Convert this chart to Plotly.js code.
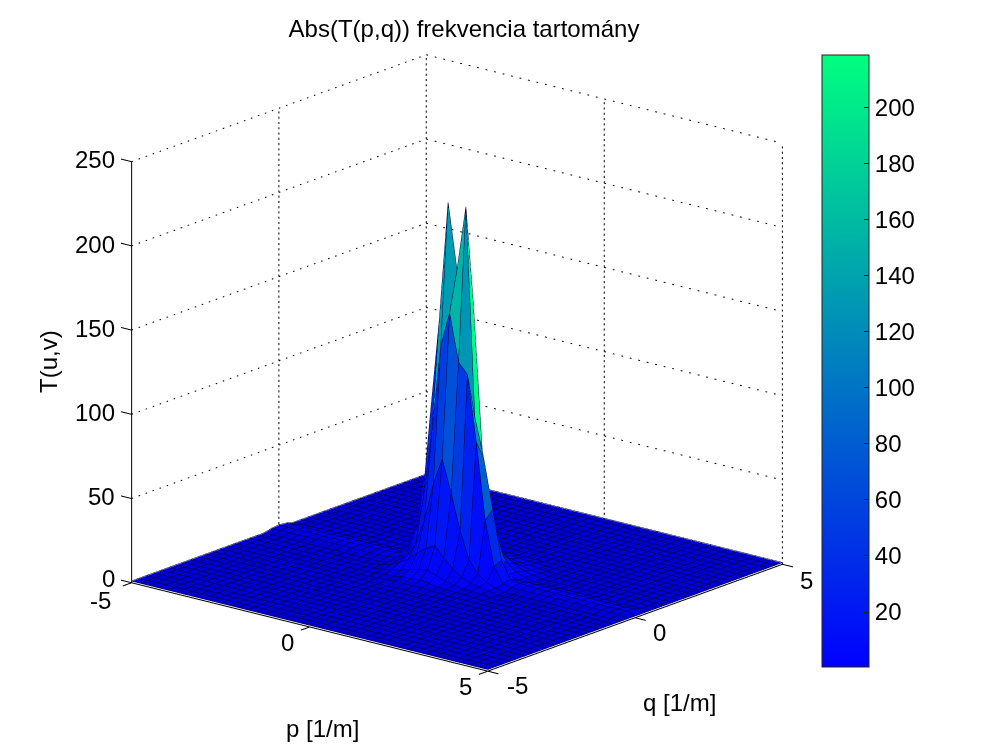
<!DOCTYPE html>
<html><head><meta charset="utf-8">
<script src="https://cdn.plot.ly/plotly-3.0.1.min.js"></script>
<style>html,body{margin:0;padding:0;background:#fff}</style></head>
<body><div id="g" style="width:1003px;height:752px"></div>
<script>
// Grid and read-off values
const gridP=[-5,-4.75,-4.5,-4.25,-4,-3.75,-3.5,-3.25,-3,-2.75,-2.5,-2.25,-2,-1.75,-1.5,-1.25,-1,-0.75,-0.5,-0.25,0,0.25,0.5,0.75,1,1.25,1.5,1.75,2,2.25,2.5,2.75,3,3.25,3.5,3.75,4,4.25,4.5,4.75,5];
const gridQ=gridP.slice();
const floorLevel=0.8;
// ridge along q=0, for p=-5..-1.75 (mirrored for p>0)
const ridgeCentre=[2.4,2.2,2.2,2.2,2.2,2.2,2.3,2.3,2.3,2.3,2.5,2.5,2.8,3.2];
const ridgeSide=[1.9,1.9,1.9,1.9,1.9,1.9,1.9,2,2,2,2,2,2.1,2.2];
// central block: columns p=-1.5..1.5
const peakRowQm150=[1,1,1.5,1.5,2,2,2,2,1.5,1.5,1,1,1];
const peakRowQm125=[1,1.5,2,2,3,3,4,3,2,2,1.5,1.5,1];
const peakRowQm100=[1.5,2,3,4,6,7,8,6,4,3,2,2,1.5];
const peakRowQm075=[2,3,6,9,14,18,21,15,10,6,4,3,2];
const peakRowQm050=[2,4,8,16,32,55,71,52,31,15,8,4,2];
const peakRowQm025=[3,6,15,40,82,135,156,128,122,83,38,12,3];
const peakRowQ000=[4,14,30,90,147,218.8,180,218.8,95,72,43,14,4];
const peakRowQp025=[3,12,38,83,122,128,156,160,74,45,12,4,2];
const peakRows=[peakRowQm150,peakRowQm125,peakRowQm100,peakRowQm075,peakRowQm050,peakRowQm025,peakRowQ000,peakRowQp025];
// facet colours read separately where they differ from the lowest corner
const colourFixP=[-0.5,-0.5,0.5,0];
const colourFixQ=[-0.25,0,0,0];
const colourFixV=[135,135,190,205];
const zTicks=[0,50,100,150,200,250];
const pqTicks=[-5,0,5];
const cbTicks=[20,40,60,80,100,120,140,160,180,200];
const cMin=0.36,cMax=218.9;
const winter=[[0,'rgb(0,0,255)'],[1,'rgb(0,255,128)']];
// surface colours: same map, with the mesh-darkened floor tone at the very bottom
const surfaceMap=[[0,'rgb(0,0,212)'],[0.003,'rgb(0,0,212)'],[0.007,'rgb(0,0,255)'],[1,'rgb(0,255,128)']];
const eye={x:0.608,y:-0.735,z:0.30};
const boxScale=1.317;
const tickLen=0.3;
const range=5+tickLen;

const N=gridP.length, mid=20;
const Z=[];
for(let j=0;j<N;j++){const row=[];for(let i=0;i<N;i++){
  let v=floorLevel;
  const ri=i<=20?i:40-i;
  if(i<40){
    if(j===mid&&ri<14)v=ridgeCentre[ri];
    if((j===mid-1||j===mid+1)&&ri<14)v=ridgeSide[ri];
  }
  const a=i-mid+6,b=j-mid+6;
  if(a>=0&&a<13&&b>=0&&b<13){
    v=b<peakRows.length?peakRows[b][a]:peakRows[12-b][12-a];
  }
  row.push(v);}Z.push(row);}
const Cf=Z.map(r=>r.slice());
colourFixP.forEach((p,k)=>{Cf[gridQ.indexOf(colourFixQ[k])][gridP.indexOf(p)]=colourFixV[k];});
// flat facets: duplicate inner vertices, one colour per facet (corner with lowest indices)
const D=2*(N-1);
const dupV=a=>Math.ceil(a/2), dupF=a=>Math.floor(a/2);
const X=[],Y=[];for(let a=0;a<D;a++){X.push(gridP[dupV(a)]);Y.push(gridQ[dupV(a)]);}
const ZZ=[],CC=[];
for(let b=0;b<D;b++){const rz=[],rc=[];for(let a=0;a<D;a++){rz.push(Z[dupV(b)][dupV(a)]);rc.push(Cf[dupF(b)][dupF(a)]);}ZZ.push(rz);CC.push(rc);}

const f={family:'Liberation Sans',size:24,color:'#000'};
const surf={type:'surface',x:X,y:Y,z:ZZ,surfacecolor:CC,cmin:cMin,cmax:cMax,colorscale:surfaceMap,showscale:false,
 lighting:{ambient:1,diffuse:0,specular:0,roughness:1,fresnel:0},hoverinfo:'skip'};
// colour bar carrier (hidden under the surface)
const cbar={type:'scatter3d',mode:'markers',x:[0,0],y:[0,0],z:[0,0],hoverinfo:'skip',showlegend:false,
 marker:{size:1,opacity:0,color:[cMin,cMax],cmin:cMin,cmax:cMax,colorscale:winter,showscale:true,
 colorbar:{x:822/1003,xanchor:'left',xpad:0,ypad:0,y:(752-361)/752,yanchor:'middle',lenmode:'pixels',len:612,thicknessmode:'pixels',thickness:47,
   tickvals:cbTicks,ticktext:cbTicks.map(String),ticks:'inside',ticklen:5,tickcolor:'#222',outlinecolor:'#222',outlinewidth:1,
   tickfont:f}}};

// mesh lines, nudged toward the viewer
const off=0.02;
const mx=[],my=[],mz=[];
for(let j=0;j<N;j++){for(let i=0;i<N;i++){mx.push(gridP[i]+off*eye.x);my.push(gridQ[j]+off*eye.y);mz.push(Z[j][i]+0.5);}mx.push(null);my.push(null);mz.push(null);}
for(let i=0;i<N;i++){for(let j=0;j<N;j++){mx.push(gridP[i]+off*eye.x);my.push(gridQ[j]+off*eye.y);mz.push(Z[j][i]+0.5);}mx.push(null);my.push(null);mz.push(null);}
const mesh={type:'scatter3d',mode:'lines',x:mx,y:my,z:mz,line:{color:'rgb(0,0,60)',width:1},hoverinfo:'skip',showlegend:false};

// dotted wall grid built from short dashes
const gx=[],gy=[],gz=[];
const dot=(a,b,step,len)=>{
  const L=Math.hypot((b[0]-a[0])/10,(b[1]-a[1])/10,(b[2]-a[2])/250);
  const n=Math.round(L/step);
  for(let k=0;k<n;k++){const t=k/n,u=t+len/L;
    gx.push(a[0]+(b[0]-a[0])*t,a[0]+(b[0]-a[0])*u,null);
    gy.push(a[1]+(b[1]-a[1])*t,a[1]+(b[1]-a[1])*u,null);
    gz.push(a[2]+(b[2]-a[2])*t,a[2]+(b[2]-a[2])*u,null);}
};
const zTop=zTicks[zTicks.length-1];
zTicks.slice(1).forEach(z=>{dot([-5,-5,z],[-5,5,z],0.024,0.005);dot([-5,5,z],[5,5,z],0.024,0.005);});
pqTicks.forEach(q=>{if(q>-5)dot([-5,q,0],[-5,q,zTop],0.0125,0.005);});
pqTicks.forEach(p=>{if(p>-5)dot([p,5,0],[p,5,zTop],0.0125,0.005);});
const grid={type:'scatter3d',mode:'lines',x:gx,y:gy,z:gz,line:{color:'#000',width:2},hoverinfo:'skip',showlegend:false};

// solid axes and ticks
const ax_x=[],ax_y=[],ax_z=[];
const sol=(a,b)=>{ax_x.push(a[0],b[0],null);ax_y.push(a[1],b[1],null);ax_z.push(a[2],b[2],null);};
sol([-5,-5,0],[-5,-5,zTop]);
sol([-5,-5,0],[5,-5,0]);
sol([5,-5,0],[5,5,0]);
zTicks.forEach(z=>sol([-5,-5,z],[-5-tickLen,-5,z]));
pqTicks.forEach(p=>sol([p,-5,0],[p,-5-tickLen,0]));
pqTicks.forEach(q=>sol([5,q,0],[5+tickLen,q,0]));
const axes={type:'scatter3d',mode:'lines',x:ax_x,y:ax_y,z:ax_z,line:{color:'#000',width:2},hoverinfo:'skip',showlegend:false};

const ann=[];
const lab=(x,y,z,text,xs,ys,extra)=>ann.push(Object.assign({x,y,z,text,showarrow:false,xshift:xs,yshift:ys,font:f},extra||{}));
zTicks.forEach(z=>lab(-5,-5,z,String(z),-15,z===0?5:2,{xanchor:'right'}));
lab(-5,-5,0,'-5',-31,-17); lab(0,-5,0,'0',-22,-15); lab(5,-5,0,'5',-22,-15);
lab(5,-5,0,'-5',30,-14); lab(5,0,0,'0',25,-14); lab(5,5,0,'5',24,-16);
lab(0,-5,0,'p [1/m]',13,-101);
lab(5,0,0,'q [1/m]',45,-84);
lab(-5,-5,125,'T(u,v)',-83,11,{textangle:-90});

const ax=(rng,tv)=>({range:rng,autorange:false,tickvals:tv,showticklabels:false,showgrid:false,zeroline:false,showline:false,ticks:'',showbackground:false,showspikes:false,title:{text:''}});
const layout={width:1003,height:752,margin:{l:0,r:0,t:0,b:0},paper_bgcolor:'#fff',showlegend:false,hovermode:false,
 title:{text:'Abs(T(p,q)) frekvencia tartomány',x:464/1003,xanchor:'center',y:(752-29)/752,yanchor:'middle',font:f},
 scene:{domain:{x:[0,0.911],y:[0.05,0.984]},aspectmode:'manual',aspectratio:{x:boxScale*range/5,y:boxScale*range/5,z:0.955*boxScale},
  camera:{eye:{x:eye.x,y:eye.y,z:eye.z},center:{x:0,y:0,z:0},up:{x:0,y:0,z:1},projection:{type:'orthographic'}},
  xaxis:ax([-range,range],pqTicks),yaxis:ax([-range,range],pqTicks),zaxis:ax([0,250],zTicks),annotations:ann,dragmode:false}};
Plotly.newPlot('g',[surf,mesh,grid,axes,cbar],layout,{displayModeBar:false});
</script></body></html>
